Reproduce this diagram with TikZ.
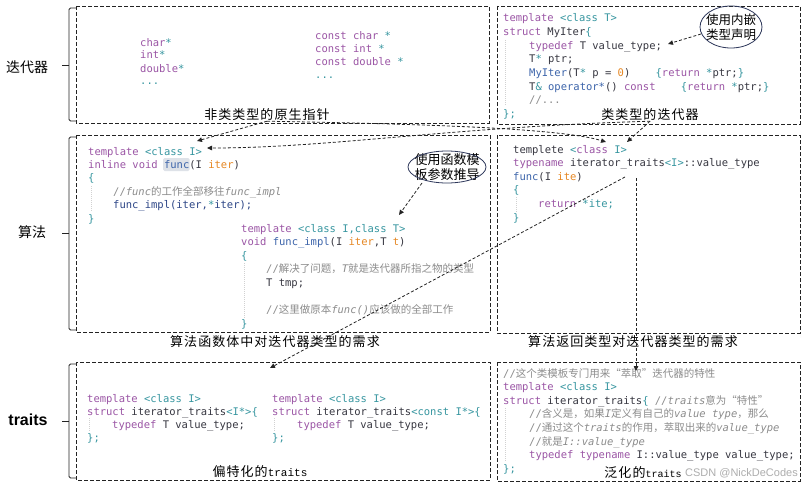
\documentclass[tikz,border=0pt]{standalone}
\usepackage{fontspec}
\usetikzlibrary{arrows.meta,shapes.geometric}
\setmonofont{DejaVu Sans Mono}
\newfontfamily\cjk{Noto Sans CJK SC}
\newfontfamily\lmono{Liberation Mono}
\newfontfamily\lsans{Liberation Sans}
\definecolor{kw}{RGB}{155,85,165}
\definecolor{tl}{RGB}{55,150,160}
\definecolor{fn}{RGB}{60,100,170}
\definecolor{fd}{RGB}{45,70,135}
\definecolor{og}{RGB}{230,135,35}
\definecolor{cm}{RGB}{140,140,140}
\definecolor{tx}{RGB}{55,55,65}
\definecolor{hl}{RGB}{222,226,232}
\definecolor{bx}{RGB}{35,35,35}
\definecolor{ec}{RGB}{45,55,90}
\newcommand\ckw[1]{\textcolor{kw}{#1}}
\newcommand\ctl[1]{\textcolor{tl}{#1}}
\newcommand\cfn[1]{\textcolor{fn}{#1}}
\newcommand\cfd[1]{\textcolor{fd}{#1}}
\newcommand\cog[1]{\textcolor{og}{#1}}
\newcommand\ccm[1]{\textcolor{cm}{#1}}
\newcommand\cci[1]{\textcolor{cm}{\itshape #1}}
\newcommand\ccj[1]{{\cjk\fontsize{10.5}{12}\selectfont\textcolor{cm}{#1}}}
\newcommand\lbtt[1]{{\lmono\fontsize{11}{15}\selectfont #1}}
\newcommand\lbts[1]{{\lmono\fontsize{10}{15}\selectfont #1}}
\tikzset{
 code/.style={anchor=base west, inner sep=0pt, text=tx, font=\ttfamily\fontsize{10.5}{12}\selectfont},
 lbl/.style={inner sep=0pt, font=\cjk\fontsize{13}{15}\selectfont\addfontfeature{LetterSpace=8}},
 side/.style={inner sep=0pt, font=\cjk\fontsize{14}{16}\selectfont},
 box/.style={draw=bx, line width=0.9pt, dash pattern=on 4pt off 2pt},
 brk/.style={draw=bx, line width=0.8pt, rounded corners=1.5pt},
 conn/.style={draw=bx, line width=0.8pt, dash pattern=on 3pt off 2pt, -{Triangle[length=5pt,width=4.5pt]}},
 ell/.style={draw=ec, line width=0.8pt},
 elltxt/.style={inner sep=0pt, align=center},
 guide/.style={draw=black!18, line width=0.5pt, dash pattern=on 1pt off 1pt},
}
\begin{document}
\begin{tikzpicture}[x=1pt,y=-1pt]
\useasboundingbox (0,0) rectangle (805,487);
\fill[white] (0,0) rectangle (805,487);

% ---------- boxes ----------
\draw[box] (76,6) rectangle (489,123);
\draw[box] (497,6) rectangle (800,124);
\draw[box] (76,135) rectangle (490,332);
\draw[box] (497,135) rectangle (800,333);
\draw[box] (76,362) rectangle (490,480);
\draw[box] (497,362) rectangle (800,481);

% ---------- brackets ----------
\draw[brk] (76,8) -- (69,8) -- (69,121) -- (76,121);
\draw[brk] (69,65) -- (62,65);
\draw[brk] (76,137) -- (69,137) -- (69,330) -- (76,330);
\draw[brk] (69,233) -- (62,233);
\draw[brk] (76,364) -- (69,364) -- (69,478) -- (76,478);
\draw[brk] (69,421) -- (62,421);

\node[side] (s1) at (27,67) {迭代器};
\node[side] (s2) at (32,232) {算法};
\node[inner sep=0pt, font=\lsans\bfseries\fontsize{16}{18}\selectfont] (s3) at (28,420) {traits};

% ---------- indentation guides ----------
\draw[guide] (505,40) -- (505,105);
\draw[guide] (91,186) -- (91,212);
\draw[guide] (244,263) -- (244,318);
\draw[guide] (516,197) -- (516,212);
\draw[guide] (89,418) -- (89,431);
\draw[guide] (274,418) -- (274,431);
\draw[guide] (505,408) -- (505,462);

% ---------- box A ----------
\node[code] (a1) at (140,46) {\ckw{char}\ctl{*}};
\node[code] (a2) at (140,59) {\ckw{int}\ctl{*}};
\node[code] (a3) at (140,72) {\ckw{double}\ctl{*}};
\node[code] (a4) at (140,84) {\ctl{...}};
\node[code] (a5) at (315,39.5) {\ckw{const char} \ctl{*}};
\node[code] (a6) at (315,52.5) {\ckw{const int} \ctl{*}};
\node[code] (a7) at (315,65.5) {\ckw{const double} \ctl{*}};
\node[code] (a8) at (315,78.5) {\ctl{...}};
\node[lbl] (lA) at (267,115) {非类类型的原生指针};

% ---------- box B ----------
\node[code] (b1) at (503,22) {\ckw{template} \ctl{<class T>}};
\node[code] (b2) at (503,35.6) {\ckw{struct} MyIter\ctl{\{}};
\node[code] (b3) at (529,49.2) {\ckw{typedef} T value\_type;};
\node[code] (b4) at (529,62.8) {T\ctl{*} ptr;};
\node[code] (b5) at (529,76.4) {\cfn{MyIter}(T\ctl{*} p = \cog{0})~~~~\ctl{\{}\ckw{return} \ctl{*}ptr;\ctl{\}}};
\node[code] (b6) at (529,90) {T\ctl{\&} \cfn{operator*}() \ckw{const}~~~~\ctl{\{}\ckw{return} \ctl{*}ptr;\ctl{\}}};
\node[code] (b7) at (529,103.6) {\ccm{//...}};
\node[code] (b8) at (503,117.2) {\ctl{\};}};
\node[lbl] (lB) at (650,115) {类类型的迭代器};

\node[elltxt, font=\cjk\fontsize{12.5}{15}\selectfont] (e1) at (731,27) {使用内嵌\\类型声明};
\draw[ell] (e1.center) ellipse [x radius=31, y radius=21];

% ---------- box C ----------
\fill[hl, rounded corners=1.5pt] (163,158) rectangle (189.5,171);
\node[code] (c1) at (88,155) {\ckw{template} \ctl{<class I>}};
\node[code] (c2) at (88,168.4) {\ckw{inline void} \cfn{func}(I \cog{iter})};
\node[code] (c3) at (88,181.8) {\ctl{\{}};
\node[code] (c4) at (113,195.2) {\ccm{//}\cci{func}\ccj{的工作全部移往}\cci{func\_impl}};
\node[code] (c5) at (113,208.6) {\cfd{func\_impl(iter,}\ctl{*}\cfd{iter);}};
\node[code] (c6) at (88,222) {\ctl{\}}};
\node[code] (c7) at (241,232) {\ckw{template} \ctl{<class I,class T>}};
\node[code] (c8) at (241,245.6) {\ckw{void} \cfn{func\_impl}(I \cog{iter},T \cog{t})};
\node[code] (c9) at (241,259.2) {\ctl{\{}};
\node[code] (c10) at (266,272.8) {\ccm{//}\ccj{解决了问题，}\cci{T}\ccj{就是迭代器所指之物的类型}};
\node[code] (c11) at (266,286.4) {T tmp;};
\node[code] (c12) at (266,313.6) {\ccm{//}\ccj{这里做原本}\cci{func()}\ccj{应该做的全部工作}};
\node[code] (c13) at (241,327.2) {\ctl{\}}};
\node[lbl] (lC) at (275,342) {算法函数体中对迭代器类型的需求};

\node[elltxt, font=\cjk\fontsize{13}{14.5}\selectfont] (e2) at (447,167) {使用函数模\\板参数推导};
\draw[ell] (e2.center) ellipse [x radius=39, y radius=16];

% ---------- box D ----------
\node[code] (d1) at (513,153) {templete \ctl{<}\ckw{class} \ctl{I>}};
\node[code] (d2) at (513,166.6) {\ckw{typename} iterator\_traits\ctl{<I>}::value\_type};
\node[code] (d3) at (513,180.2) {\cfn{func}(I \cog{ite})};
\node[code] (d4) at (513,193.8) {\ctl{\{}};
\node[code] (d5) at (538,207.4) {\ckw{return} \ctl{*ite;}};
\node[code] (d6) at (513,221) {\ctl{\}}};
\node[lbl] (lD) at (633,342) {算法返回类型对迭代器类型的需求};

% ---------- box E ----------
\node[code] (g1) at (87,402) {\ckw{template} \ctl{<class I>}};
\node[code] (g2) at (87,415) {\ckw{struct} iterator\_traits\ctl{<I*>\{}};
\node[code] (g3) at (112,428) {\ckw{typedef} T value\_type;};
\node[code] (g4) at (87,441) {\ctl{\};}};
\node[code] (g5) at (272,402) {\ckw{template} \ctl{<class I>}};
\node[code] (g6) at (272,415) {\ckw{struct} iterator\_traits\ctl{<const I*>\{}};
\node[code] (g7) at (297,428) {\ckw{typedef} T value\_type;};
\node[code] (g8) at (272,441) {\ctl{\};}};
\node[lbl] (lE) at (260,472) {偏特化的\lbtt{traits}};

% ---------- box F ----------
\node[code] (f1) at (503,377) {\ccm{//}\ccj{这个类模板专门用来“萃取”迭代器的特性}};
\node[code] (f2) at (503,390.6) {\ckw{template} \ctl{<class I>}};
\node[code] (f3) at (503,404.2) {\ckw{struct} iterator\_traits\ctl{\{} \ccm{//}\cci{traits}\ccj{意为“特性”}};
\node[code] (f4) at (529,417.8) {\ccm{//}\ccj{含义是，如果}\cci{I}\ccj{定义有自己的}\cci{value type}\ccj{，那么}};
\node[code] (f5) at (529,431.4) {\ccm{//}\ccj{通过这个}\cci{traits}\ccj{的作用，萃取出来的}\cci{value\_type}};
\node[code] (f6) at (529,445) {\ccm{//}\ccj{就是}\cci{I::value\_type}};
\node[code] (f7) at (529,458.6) {\ckw{typedef typename} I::value\_type value\_type;};
\node[code] (f8) at (503,472.2) {\ctl{\};}};
\node[lbl] (lF) at (643,473) {泛化的\lbts{traits}};

% ---------- connectors ----------
\coordinate (tA) at (197,141);
\coordinate (tB) at (606,142);
\coordinate (tC) at (627,142);
\coordinate (tD) at (207,148);
\coordinate (sE) at (625,177);
\coordinate (tE) at (270,368);
\coordinate (sF) at (636,178);
\coordinate (tF) at (636,371);
\coordinate (e1s) at (701,34);
\coordinate (e1t) at (668,44);
\coordinate (e2s) at (422,183);
\coordinate (e2t) at (399,215);
\draw[conn] (lA.south) -- (tA);
\draw[conn] (lA.south) .. controls (420,124) and (560,128) .. (tB);
\draw[conn] (lB.south) -- (tC);
\draw[conn] (lB.south) .. controls (450,127) and (330,148) .. (tD);
\draw[conn] (sE) -- (tE);
\draw[conn] (sF) -- (tF);
\draw[conn] (e1s) -- (e1t);
\draw[conn] (e2s) -- (e2t);

% ---------- watermark ----------
\node[inner sep=0pt, anchor=east, text=black!40, opacity=0.8, font=\lsans\fontsize{11}{13}\selectfont] (wm) at (798,473) {CSDN @NickDeCodes};
\end{tikzpicture}
\end{document}
